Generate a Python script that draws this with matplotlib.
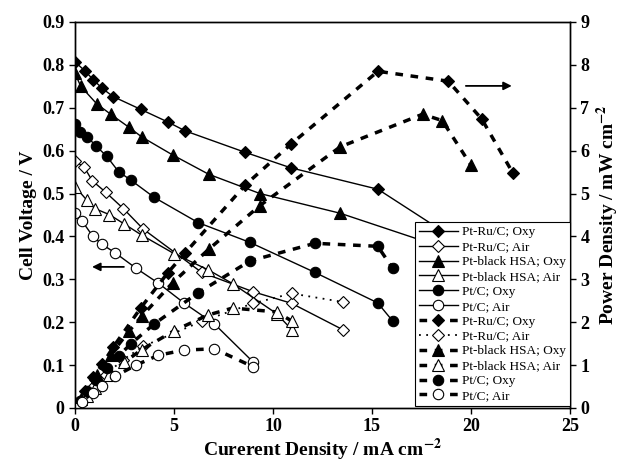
import matplotlib
matplotlib.use('Agg')
import matplotlib.pyplot as plt

plt.rcParams['font.family'] = 'Liberation Serif'
plt.rcParams['mathtext.fontset'] = 'stix'

# current density (mA cm-2), cell voltage (V), power density (mW cm-2)
ptru_oxy_i = [0, 0.5, 0.93, 1.38, 1.93, 3.33, 4.68, 5.57, 8.6, 10.9, 15.3, 18.85, 20.54, 22.1]
ptru_oxy_v = [0.807, 0.786, 0.765, 0.745, 0.726, 0.696, 0.667, 0.646, 0.596, 0.56, 0.51, 0.404, 0.328, 0.248]
ptru_oxy_p = [0, 0.40, 0.72, 1.02, 1.42, 2.34, 3.15, 3.62, 5.2, 6.15, 7.85, 7.62, 6.74, 5.49]

ptru_air_i = [0, 0.47, 0.87, 1.55, 2.44, 3.45, 6.4, 9.0, 10.94, 13.55]
ptru_air_v = [0.576, 0.561, 0.53, 0.503, 0.465, 0.417, 0.316, 0.271, 0.244, 0.182]
ptru_air_p = [0, 0.26, 0.46, 0.78, 1.13, 1.44, 2.02, 2.44, 2.67, 2.47]

ptb_oxy_i = [0, 0.29, 1.1, 1.8, 2.74, 3.37, 4.93, 6.75, 9.34, 13.4, 17.56, 18.55, 20.0]
ptb_oxy_v = [0.78, 0.75, 0.709, 0.685, 0.654, 0.632, 0.59, 0.545, 0.50, 0.454, 0.39, 0.361, 0.283]
ptb_oxy_p = [0, 0.22, 0.78, 1.24, 1.80, 2.14, 2.92, 3.70, 4.72, 6.09, 6.85, 6.70, 5.66]

ptb_air_i = [0, 0.59, 1.0, 1.73, 2.49, 3.37, 5.0, 6.73, 7.96, 10.18, 10.94]
ptb_air_v = [0.516, 0.485, 0.465, 0.451, 0.429, 0.403, 0.36, 0.322, 0.29, 0.22, 0.183]
ptb_air_p = [0, 0.29, 0.47, 0.78, 1.07, 1.36, 1.80, 2.17, 2.33, 2.24, 2.03]

ptc_oxy_i = [0, 0.25, 0.62, 1.06, 1.6, 2.2, 2.83, 4.0, 6.23, 8.84, 12.12, 15.29, 16.04]
ptc_oxy_v = [0.662, 0.644, 0.632, 0.611, 0.587, 0.551, 0.531, 0.491, 0.432, 0.386, 0.316, 0.245, 0.203]
ptc_oxy_p = [0, 0.16, 0.39, 0.65, 0.94, 1.21, 1.50, 1.96, 2.69, 3.43, 3.84, 3.77, 3.26]

ptc_air_i = [0, 0.34, 0.89, 1.35, 2.02, 3.08, 4.21, 5.5, 7.04, 9.0]
ptc_air_v = [0.455, 0.437, 0.401, 0.382, 0.362, 0.326, 0.291, 0.245, 0.196, 0.107]
ptc_air_p = [0, 0.15, 0.36, 0.52, 0.74, 1.0, 1.23, 1.35, 1.38, 0.96]

names = ['Pt-Ru/C; Oxy', 'Pt-Ru/C; Air', 'Pt-black HSA; Oxy',
         'Pt-black HSA; Air', 'Pt/C; Oxy', 'Pt/C; Air']

series = [
    (ptru_oxy_i, ptru_oxy_v, ptru_oxy_p, 'D', 'black', 6),
    (ptru_air_i, ptru_air_v, ptru_air_p, 'D', 'white', 6),
    (ptb_oxy_i, ptb_oxy_v, ptb_oxy_p, '^', 'black', 8),
    (ptb_air_i, ptb_air_v, ptb_air_p, '^', 'white', 8),
    (ptc_oxy_i, ptc_oxy_v, ptc_oxy_p, 'o', 'black', 7.5),
    (ptc_air_i, ptc_air_v, ptc_air_p, 'o', 'white', 7.5),
]

fig = plt.figure(figsize=(6.22, 4.62), dpi=100)
ax = fig.add_axes([0.1206, 0.1169, 0.7958, 0.8355])
ax2 = ax.twinx()

handles = []
for (cur, volt, pw, mk, fc, ms), name in zip(series, names):
    h, = ax.plot(cur, volt, '-', color='black', lw=1.0, marker=mk, ms=ms,
                 mfc=fc, mec='black', mew=0.8, label=name)
    handles.append(h)

for (cur, volt, pw, mk, fc, ms), name in zip(series, names):
    if name == 'Pt-Ru/C; Air':
        h, = ax2.plot(cur, pw, color='black', lw=1.3, ls=(0, (1, 3)), marker=mk,
                      ms=ms, mfc=fc, mec='black', mew=0.8, label=name)
    else:
        h, = ax2.plot(cur, pw, color='black', lw=2.5, ls=(0, (2.2, 2.2)), marker=mk,
                      ms=ms, mfc=fc, mec='black', mew=0.8, label=name)
    handles.append(h)

ax.set_xlim(0, 25)
ax.set_ylim(0, 0.9)
ax2.set_ylim(0, 9)
ax.set_xticks([0, 5, 10, 15, 20, 25])
ax.set_yticks([i / 10 for i in range(10)])
ax.set_yticklabels(['0'] + ['%.1f' % (i / 10) for i in range(1, 10)])
ax2.set_yticks(range(10))

for a in (ax, ax2):
    a.tick_params(direction='out', length=4, width=1, labelsize=13)
    for lab in a.get_xticklabels() + a.get_yticklabels():
        lab.set_fontweight('bold')
    for sp in a.spines.values():
        sp.set_linewidth(1.0)
ax.tick_params(top=False)

ax.set_xlabel('Curerent Density / mA cm$^{\\mathbf{-2}}$', fontsize=14, fontweight='bold', labelpad=1)
ax.set_ylabel('Cell Voltage / V', fontsize=14, fontweight='bold', labelpad=4)
ax2.set_ylabel('Power Density / mW cm$^{\\mathbf{-2}}$', fontsize=14, fontweight='bold', labelpad=4)

ax.annotate('', xy=(0.72, 0.329), xytext=(2.61, 0.329),
            arrowprops=dict(arrowstyle='-|>', color='black', lw=1.3, mutation_scale=12))
ax.annotate('', xy=(22.2, 0.751), xytext=(19.6, 0.751),
            arrowprops=dict(arrowstyle='-|>', color='black', lw=1.3, mutation_scale=12))

leg = ax2.legend(handles=handles, loc='lower right', bbox_to_anchor=(1.0, 0.005),
                 fontsize=9.5, numpoints=1, handlelength=3.0, labelspacing=0.2,
                 handletextpad=0.3, borderpad=0.3, borderaxespad=0.0,
                 fancybox=False, framealpha=1.0, edgecolor='black')
leg.get_frame().set_linewidth(0.8)

fig.savefig('out.png', dpi=100)
